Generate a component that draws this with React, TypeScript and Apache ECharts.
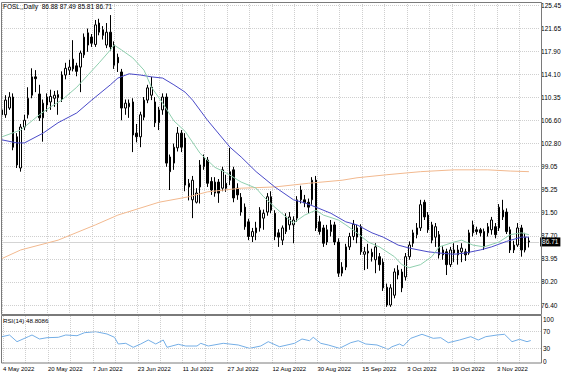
import React, { useEffect, useRef } from "react";
import * as echarts from "echarts";

// ---------- data ----------
const symbolTitle = "FOSL,,Daily";
const firstDay = "2022-05-04";
const lastDay = "2022-11-16";
const extraBarDays = ["2022-10-30"];
const monthNames = ["Jan", "Feb", "Mar", "Apr", "May", "Jun", "Jul", "Aug", "Sep", "Oct", "Nov", "Dec"];

const opens = [
  108.3, 107.5, 108.6, 110.4, 103.9, 98.8, 105.5, 107.5, 110.7, 113.7,
  110.9, 107.0, 109.1, 109.6, 110.2, 110.3, 110.0, 114.0, 114.8, 115.0,
  115.5, 115.3, 117.3, 118.9, 120.2, 119.0, 121.0, 121.4, 118.9, 121.0,
  118.9, 116.9, 114.5, 108.6, 108.8, 109.6, 104.5, 103.9, 107.1, 109.9,
  110.7, 109.6, 106.2, 108.3, 110.4, 100.6, 99.6, 102.1, 104.5, 103.7,
  95.7, 93.6, 93.2, 95.7, 99.0, 100.1, 96.6, 94.7, 96.5, 95.5,
  96.3, 96.8, 98.5, 95.5, 94.0, 92.4, 90.0, 87.6, 88.2, 89.0,
  90.6, 91.6, 94.1, 91.4, 88.2, 87.0, 88.4, 89.5, 89.5, 90.6,
  93.6, 93.6, 93.2, 93.6, 96.8, 90.0, 89.0, 86.7, 88.4, 89.5,
  86.7, 81.6, 82.6, 85.9, 87.6, 89.0, 89.2, 84.7, 84.9, 85.0,
  83.8, 84.3, 83.4, 79.3, 76.4, 78.0, 81.3, 81.8, 81.0, 84.3,
  86.5, 87.9, 89.0, 93.2, 91.1, 89.5, 87.5, 87.9, 85.4, 85.1,
  83.0, 84.9, 84.6, 85.1, 85.1, 84.9, 88.2, 88.7, 88.7, 88.4,
  88.2, 88.7, 89.2, 89.0, 90.8, 91.6, 88.7, 85.4, 86.2, 89.0,
  85.4, 86.88,
];
const highs = [
  109.3, 110.7, 111.2, 111.0, 104.5, 106.0, 107.5, 112.0, 115.1, 114.8,
  112.4, 110.0, 111.0, 111.6, 111.4, 111.5, 114.6, 116.0, 116.5, 119.7,
  116.0, 118.0, 120.8, 121.6, 120.7, 123.0, 123.2, 122.0, 122.5, 123.8,
  119.5, 117.5, 115.0, 110.0, 110.0, 110.2, 106.0, 108.0, 110.4, 112.4,
  113.7, 110.4, 108.8, 111.0, 111.0, 101.0, 102.8, 105.5, 105.0, 104.5,
  97.0, 97.5, 95.5, 100.1, 101.0, 100.6, 97.3, 97.3, 97.0, 99.0,
  97.7, 102.1, 99.0, 96.3, 94.7, 93.0, 90.5, 89.0, 90.0, 92.4,
  92.0, 94.7, 95.0, 91.9, 88.8, 89.4, 91.4, 91.6, 90.9, 94.2,
  95.9, 94.4, 93.8, 97.3, 97.5, 91.0, 89.5, 89.5, 90.3, 90.0,
  87.3, 83.4, 86.4, 88.2, 90.3, 89.5, 89.6, 85.9, 86.4, 85.6,
  86.5, 84.9, 84.0, 79.9, 79.8, 82.4, 82.9, 82.3, 84.9, 86.8,
  88.7, 89.8, 93.6, 93.6, 91.6, 90.0, 89.8, 88.5, 86.0, 85.6,
  85.9, 86.5, 86.2, 86.5, 85.6, 88.7, 90.2, 89.2, 89.0, 88.9,
  89.8, 90.8, 89.8, 92.9, 93.6, 92.2, 89.2, 86.9, 89.8, 89.5,
  88.2, 87.49,
];
const lows = [
  106.6, 107.0, 108.3, 101.7, 98.8, 98.2, 105.0, 106.9, 110.2, 111.2,
  106.5, 103.1, 108.0, 108.3, 108.8, 107.5, 109.6, 113.3, 114.0, 114.6,
  113.8, 111.2, 116.8, 117.8, 118.6, 118.6, 120.5, 119.8, 118.4, 118.0,
  115.0, 114.5, 106.6, 107.5, 107.0, 101.4, 103.0, 102.2, 106.6, 109.4,
  109.9, 105.5, 105.0, 107.5, 99.0, 95.2, 98.5, 101.5, 101.4, 95.0,
  93.5, 90.6, 93.0, 93.0, 98.5, 95.7, 94.4, 94.1, 93.1, 95.0,
  94.9, 96.0, 93.2, 93.6, 91.0, 88.7, 87.0, 86.7, 87.0, 88.4,
  88.7, 91.0, 91.4, 87.0, 85.9, 86.2, 88.0, 88.7, 86.5, 90.0,
  93.0, 92.4, 91.4, 92.8, 88.5, 87.9, 85.9, 86.2, 87.6, 86.2,
  81.0, 81.1, 82.1, 85.4, 87.0, 86.5, 84.6, 82.1, 82.3, 83.5,
  81.6, 82.0, 78.7, 76.1, 76.1, 77.5, 80.6, 78.5, 80.4, 83.8,
  85.9, 87.3, 88.5, 90.3, 88.2, 86.5, 85.9, 84.0, 83.8, 81.3,
  82.6, 83.4, 83.0, 83.4, 83.6, 84.6, 87.6, 87.9, 87.6, 85.4,
  87.6, 87.9, 87.3, 88.5, 90.3, 88.0, 84.9, 84.9, 85.9, 84.3,
  85.0, 85.81,
];
const closes = [
  107.5, 109.9, 110.4, 102.2, 99.3, 105.5, 106.6, 110.2, 113.7, 113.4,
  107.0, 109.4, 110.4, 110.5, 110.7, 110.8, 114.0, 115.1, 115.3, 116.6,
  114.6, 117.6, 120.2, 120.9, 119.2, 122.2, 122.5, 120.5, 121.0, 118.6,
  115.6, 116.0, 108.6, 109.4, 109.4, 104.2, 103.9, 107.5, 109.9, 111.9,
  112.0, 106.2, 108.3, 110.4, 99.6, 98.2, 102.2, 104.5, 102.2, 96.0,
  96.3, 96.8, 94.7, 99.3, 100.4, 96.3, 95.2, 96.5, 94.7, 98.5,
  95.5, 98.2, 93.9, 94.4, 91.6, 89.2, 87.6, 88.4, 89.0, 91.9,
  91.4, 94.1, 91.9, 87.6, 87.5, 89.0, 90.8, 90.8, 90.3, 93.6,
  95.2, 93.1, 92.4, 96.8, 89.0, 88.4, 86.5, 88.7, 89.5, 86.7,
  81.6, 82.6, 85.9, 87.6, 89.6, 87.5, 85.1, 85.1, 85.2, 84.3,
  85.9, 83.0, 79.2, 76.4, 79.2, 81.8, 82.1, 79.2, 84.3, 86.2,
  88.2, 89.0, 92.8, 90.8, 88.7, 87.0, 89.2, 84.6, 84.6, 83.0,
  85.4, 85.4, 85.4, 85.7, 84.6, 88.2, 89.5, 88.4, 88.2, 85.9,
  89.2, 90.3, 87.9, 92.4, 91.9, 88.4, 85.4, 86.2, 89.0, 85.4,
  87.5, 86.71,
];

// moving averages: [bar index, price]
const maFast = [
  [0, 103.9], [5, 105.0], [10, 107.5], [13, 108.8], [16, 109.9], [20, 112.0], [23, 114.0],
  [26, 116.0], [29, 118.1], [30, 118.9], [32, 118.1], [35, 116.8], [38, 114.8], [40, 112.0],
  [43, 109.4], [46, 106.5], [49, 104.8], [53, 101.2], [57, 98.9], [60, 98.0], [64, 96.5],
  [68, 95.5], [70, 94.1], [73, 92.4], [76, 90.8], [78, 89.8], [81, 91.1], [84, 91.9],
  [86, 91.1], [90, 90.3], [92, 89.5], [95, 88.2], [98, 86.7], [101, 85.9], [105, 84.3],
  [107, 83.0], [109, 82.5], [112, 83.0], [115, 84.3], [117, 85.9], [121, 86.7], [123, 87.0],
  [126, 86.2], [129, 85.9], [133, 86.7], [136, 87.9], [139, 88.2], [141, 87.9],
];
const maSlow = [
  [0, 103.4], [4, 102.9], [6, 102.9], [11, 104.5], [15, 106.2], [20, 107.8], [24, 109.9],
  [29, 112.4], [31, 113.5], [34, 114.2], [37, 114.0], [40, 113.7], [43, 113.5], [46, 112.4],
  [49, 111.2], [51, 109.9], [55, 106.6], [61, 102.2], [64, 100.6], [68, 98.2], [73, 95.7],
  [78, 93.6], [81, 93.1], [84, 92.4], [88, 91.4], [92, 90.0], [95, 89.5], [99, 88.2],
  [102, 87.5], [106, 86.2], [109, 85.7], [114, 85.1], [117, 84.9], [121, 84.7], [124, 84.9],
  [128, 85.4], [131, 85.9], [135, 86.8], [139, 87.5], [141, 87.5],
];
const ma200 = [
  [0, 84.0], [5, 85.4], [15, 87.0], [25, 89.5], [31, 91.1], [42, 93.2], [50, 94.1],
  [55, 94.9], [64, 95.5], [73, 95.7], [82, 96.3], [91, 96.8], [95, 97.2], [103, 97.7],
  [112, 98.2], [121, 98.5], [130, 98.5], [136, 98.3], [141, 98.2],
];
const rsiValues = [
  [0, 57.9], [2, 61.9], [4, 46.0], [7, 57.9], [8, 61.9], [10, 52.4], [12, 55.5], [15, 56.4],
  [17, 61.9], [20, 60.2], [22, 67.4], [25, 69.8], [28, 64.3], [30, 56.4], [31, 40.5], [33, 42.1],
  [35, 32.6], [37, 40.5], [39, 50.0], [41, 40.5], [43, 50.0], [44, 32.6], [47, 39.8], [49, 35.7],
  [52, 35.7], [53, 42.1], [55, 35.7], [59, 42.1], [63, 38.1], [66, 30.2], [69, 35.7], [71, 46.0],
  [74, 34.0], [78, 42.1], [80, 52.4], [82, 48.3], [83, 56.4], [85, 42.1], [87, 38.1], [90, 30.2],
  [93, 43.6], [95, 48.3], [97, 40.5], [100, 38.1], [103, 27.9], [104, 34.0], [106, 40.5], [107, 35.7],
  [109, 54.0], [112, 63.6], [115, 54.0], [117, 55.5], [119, 43.6], [122, 50.0], [125, 57.9], [127, 50.0],
  [129, 57.9], [132, 61.9], [134, 63.6], [136, 46.0], [138, 51.7], [140, 46.0], [141, 48.8],
];
const rsiLast = "48.8086";
const rsiPeriod = 14;
const rsiLevels = [30, 70];
const rsiTickLabels = [0, 30, 70, 100];
const priceTickLabels = [
  "76.40", "80.20", "83.95", "87.70", "91.50", "95.25", "99.05",
  "102.80", "106.60", "110.35", "114.10", "117.90", "121.65", "125.45",
];
const dateLabelEvery = 12;
const gridEvery = 6;

// ---------- helpers ----------
function buildDates(): string[] {
  const out: string[] = [];
  const end = Date.parse(lastDay + "T00:00:00Z");
  for (let t = Date.parse(firstDay + "T00:00:00Z"); t <= end; t += 86400000) {
    const d = new Date(t);
    const iso = d.toISOString().slice(0, 10);
    const wd = d.getUTCDay();
    if ((wd >= 1 && wd <= 5) || extraBarDays.includes(iso)) {
      out.push(`${d.getUTCDate()} ${monthNames[d.getUTCMonth()]} ${d.getUTCFullYear()}`);
    }
  }
  return out;
}

const FONT = "'Liberation Sans', Arial, sans-serif";
const GRID_COLOR = "#cfcfcf";
const FRAME = "#7a7a7a";

export default function App() {
  const ref = useRef<HTMLDivElement>(null);
  useEffect(() => {
    const dates = buildDates();
    const n = closes.length;
    const candleData = closes.map((c, i) => [i, opens[i], c, lows[i], highs[i]]);
    const pMin = parseFloat(priceTickLabels[0]);
    const pMax = parseFloat(priceTickLabels[priceTickLabels.length - 1]);
    const pStep = (pMax - pMin) / (priceTickLabels.length - 1);
    const xMax = 143.73;
    const last = n - 1;
    const fmt = (v: number) => v.toFixed(2);

    const splitX = { show: true, lineStyle: { color: GRID_COLOR, type: [1, 1], width: 1 } };
    const hiddenX = (grid: number) => ({
      type: "value", gridIndex: grid, min: 0, max: xMax, show: false,
    });
    const option: any = {
      animation: false,
      backgroundColor: "#ffffff",
      textStyle: { fontFamily: FONT },
      grid: [
        { left: 2, top: 2, width: 539, height: 312, show: false },
        { left: 2, top: 5, width: 539, height: 300, show: false },
        { left: 2, top: 316, width: 539, height: 47, show: false },
        { left: 2, top: 319, width: 539, height: 42, show: false },
      ],
      xAxis: [
        {
          type: "value", gridIndex: 0, min: 0, max: xMax, interval: gridEvery,
          axisLine: { show: false }, axisTick: { show: false }, axisLabel: { show: false },
          splitLine: splitX,
        },
        hiddenX(1),
        {
          type: "value", gridIndex: 2, min: 0, max: xMax, interval: gridEvery,
          axisLine: { show: false }, axisTick: { show: false },
          axisLabel: {
            show: true, fontSize: 6, color: "#000", align: "left", margin: 3, fontFamily: FONT,
            formatter: (v: number) =>
              Number.isInteger(v) && v % dateLabelEvery === 0 && v < dates.length ? dates[v] : "",
          },
          splitLine: splitX,
        },
        hiddenX(3),
      ],
      yAxis: [
        { type: "value", gridIndex: 0, min: 0, max: 1, show: false },
        {
          type: "value", gridIndex: 1, min: pMin, max: pMax, interval: pStep, position: "right",
          axisLine: { show: false }, axisTick: { show: false },
          axisLabel: {
            show: true, fontSize: 6.5, color: "#000", margin: 2, fontFamily: FONT,
            formatter: (v: number) => {
              const k = Math.round((v - pMin) / pStep);
              return Math.abs(pMin + k * pStep - v) < 1e-6 && k >= 0 && k < priceTickLabels.length
                ? priceTickLabels[k] : "";
            },
          },
          splitLine: { show: true, lineStyle: { color: GRID_COLOR, type: [1, 1], width: 1 } },
        },
        { type: "value", gridIndex: 2, min: 0, max: 1, show: false },
        {
          type: "value", gridIndex: 3, min: 0, max: 100, interval: 10, position: "right",
          axisLine: { show: false }, axisTick: { show: false },
          axisLabel: {
            show: true, fontSize: 6.5, color: "#000", margin: 2, fontFamily: FONT,
            formatter: (v: number) => (rsiTickLabels.includes(v) ? String(v) : ""),
          },
          splitLine: { show: false },
        },
      ],
      series: [
        {
          type: "candlestick", xAxisIndex: 1, yAxisIndex: 1, data: candleData,
          barWidth: 2, clip: false, z: 2, silent: true,
          itemStyle: {
            color: "#ffffff", color0: "#000000", borderColor: "#000000",
            borderColor0: "#000000", borderColorDoji: "#000000", borderWidth: 1,
          },
          markLine: {
            silent: true, symbol: ["none", "none"], animation: false, z: 1,
            lineStyle: { color: "#d4d4d4", type: "solid", width: 1 },
            label: {
              show: true, position: "end", distance: 1, formatter: () => fmt(closes[last]),
              backgroundColor: "#000", color: "#fff", fontSize: 6.5, padding: [1, 2, 1, 2],
              fontFamily: FONT,
            },
            data: [{ yAxis: closes[last] }],
          },
        },
        {
          type: "line", xAxisIndex: 1, yAxisIndex: 1, data: ma200, symbol: "none", z: 3,
          lineStyle: { color: "#f2b98f", width: 1 }, silent: true,
        },
        {
          type: "line", xAxisIndex: 1, yAxisIndex: 1, data: maSlow, symbol: "none", z: 3,
          lineStyle: { color: "#4a4ac8", width: 1 }, silent: true,
        },
        {
          type: "line", xAxisIndex: 1, yAxisIndex: 1, data: maFast, symbol: "none", z: 3,
          lineStyle: { color: "#8fcfae", width: 1 }, silent: true,
        },
        {
          type: "line", xAxisIndex: 3, yAxisIndex: 3, data: rsiValues, symbol: "none", z: 3,
          lineStyle: { color: "#74aee6", width: 1 }, silent: true,
          markLine: {
            silent: true, symbol: ["none", "none"], animation: false,
            lineStyle: { color: GRID_COLOR, type: [1, 1], width: 1 },
            label: { show: false },
            data: rsiLevels.map((v) => ({ yAxis: v })),
          },
        },
      ],
      graphic: [
        {
          type: "rect", silent: true, z: 50,
          shape: { x: 1.5, y: 2.5, width: 540, height: 312 },
          style: { fill: "none", stroke: FRAME, lineWidth: 1 },
        },
        {
          type: "rect", silent: true, z: 50,
          shape: { x: 1.5, y: 315.5, width: 540, height: 47.5 },
          style: { fill: "none", stroke: FRAME, lineWidth: 1 },
        },
        {
          type: "text", x: 3, y: 2.5, silent: true, z: 60,
          style: {
            text: `${symbolTitle}  ${fmt(opens[last])} ${fmt(highs[last])} ${fmt(lows[last])} ${fmt(closes[last])}`,
            fontSize: 6.5, fill: "#000", fontFamily: FONT, verticalAlign: "top",
          },
        },
        {
          type: "text", x: 3, y: 317.5, silent: true, z: 60,
          style: {
            text: `RSI(${rsiPeriod}) ${rsiLast}`,
            fontSize: 6.2, fill: "#000", fontFamily: FONT, verticalAlign: "top",
          },
        },
      ],
    };

    const chart = echarts.init(ref.current!, null, { renderer: "svg" });
    chart.setOption(option);
    return () => chart.dispose();
  }, []);

  return (
    <div
      ref={ref}
      style={{ position: "absolute", left: 0, top: 0, width: 564, height: 376, background: "#fff" }}
    />
  );
}
